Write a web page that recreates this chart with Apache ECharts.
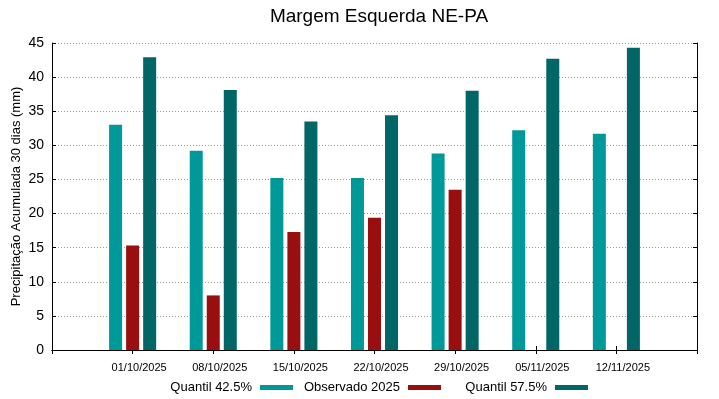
<!DOCTYPE html>
<html>
<head>
<meta charset="utf-8">
<script src="https://cdn.jsdelivr.net/npm/echarts@6/dist/echarts.min.js"></script>
<style>html,body{margin:0;padding:0;background:#fff}#c{width:719px;height:399px}</style>
</head>
<body>
<div id="c"></div>
<script>
const dates = ['01/10/2025','08/10/2025','15/10/2025','22/10/2025','29/10/2025','05/11/2025','12/11/2025'];
const q425 = [33.0, 29.2, 25.2, 25.2, 28.8, 32.2, 31.7];
const obs2025 = [15.3, 8.0, 17.3, 19.4, 23.5, null, null];
const q575 = [42.9, 38.1, 33.5, 34.4, 38.0, 42.7, 44.3];
const yTicks = [0,5,10,15,20,25,30,35,40,45];

const cats = [''].concat(dates, ['']);
const pad = a => [null].concat(a, [null]);
const font = 'Liberation Sans, Arial, sans-serif';

const chart = echarts.init(document.getElementById('c'), null, {renderer:'canvas'});
const barBase = {type:'bar', barWidth:13, barGap:'31%'};
const legendBase = {bottom:5, padding:0, align:'right', itemWidth:33, itemHeight:5, icon:'rect',
  textStyle:{fontFamily:font, fontSize:13, color:'#000', padding:[0,3,0,0]}};
chart.setOption({
  animation:false,
  title:{text:'Margem Esquerda NE-PA', left:374, textAlign:'center', top:2,
    textStyle:{fontFamily:font, fontSize:19, fontWeight:'normal', color:'#000'}},
  grid:{left:52, right:22, top:43, bottom:49, outerBoundsMode:'none', containLabel:false},
  legend:[
    Object.assign({data:['Quantil 42.5%'], right:426}, legendBase),
    Object.assign({data:['Observado 2025'], right:278}, legendBase),
    Object.assign({data:['Quantil 57.5%'], right:131}, legendBase)
  ],
  xAxis:[
    {type:'category', data:cats, boundaryGap:false, position:'bottom',
      axisLine:{lineStyle:{color:'#000', width:1}},
      axisTick:{inside:true, length:4, lineStyle:{color:'#000'}},
      axisLabel:{fontFamily:font, fontSize:11, color:'#000', margin:12, interval:0, padding:[0,0,0,13]},
      splitLine:{show:false}},
    {type:'category', data:cats, boundaryGap:false, position:'top',
      axisLine:{lineStyle:{color:'#000', width:1}},
      axisTick:{inside:true, length:4, lineStyle:{color:'#000'}},
      axisLabel:{show:false}, splitLine:{show:false}}
  ],
  yAxis:[
    {type:'value', min:0, max:45, interval:5, position:'left',
      name:'Precipitação Acumulada 30 dias (mm)', nameLocation:'middle', nameGap:29, nameMoveOverlap:false,
      nameTextStyle:{fontFamily:font, fontSize:13, color:'#000'},
      axisLine:{show:true, lineStyle:{color:'#000'}},
      axisTick:{show:true, inside:true, length:4, lineStyle:{color:'#000'}},
      axisLabel:{fontFamily:font, fontSize:14, color:'#000', margin:8,
        formatter: v => yTicks.indexOf(v) >= 0 ? String(v) : ''},
      splitLine:{show:true, lineStyle:{color:'#999', type:[1,2], width:1}}},
    {type:'value', min:0, max:45, interval:5, position:'right',
      axisLine:{show:true, lineStyle:{color:'#000'}},
      axisTick:{show:true, inside:true, length:4, lineStyle:{color:'#000'}},
      axisLabel:{show:false}, splitLine:{show:false}}
  ],
  series:[
    Object.assign({name:'Quantil 42.5%', data:pad(q425), itemStyle:{color:'#009999'}}, barBase),
    Object.assign({name:'Observado 2025', data:pad(obs2025), itemStyle:{color:'#990f0f'}}, barBase),
    Object.assign({name:'Quantil 57.5%', data:pad(q575), itemStyle:{color:'#006666'}}, barBase)
  ]
});
</script>
</body>
</html>
